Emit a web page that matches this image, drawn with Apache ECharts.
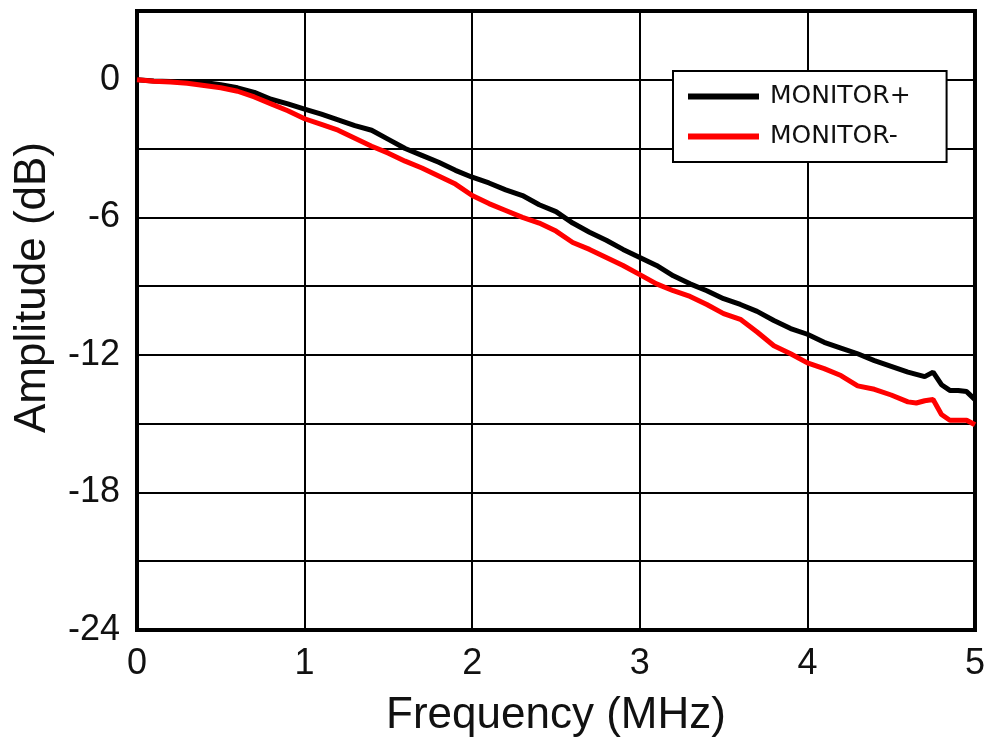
<!DOCTYPE html>
<html>
<head>
<meta charset="utf-8">
<script src="https://cdn.jsdelivr.net/npm/echarts@6/dist/echarts.min.js"></script>
<style>
    html, body { margin: 0; padding: 0; background: #fff; }
    #chart { width: 988px; height: 743px; }
</style>
</head>
<body>
<div id="chart"></div>
<script>
// frequency points (MHz)
const freq = [0, 0.1, 0.2, 0.3, 0.4, 0.5, 0.6, 0.7, 0.8, 0.9,
    1.0, 1.1, 1.2, 1.3, 1.4, 1.5, 1.6, 1.7, 1.8, 1.9,
    2.0, 2.1, 2.2, 2.3, 2.4, 2.5, 2.6, 2.7, 2.8, 2.9,
    3.0, 3.1, 3.2, 3.3, 3.4, 3.5, 3.6, 3.7, 3.8, 3.9,
    4.0, 4.1, 4.2, 4.3, 4.4, 4.5, 4.6, 4.65, 4.7, 4.75,
    4.8, 4.85, 4.9, 4.95, 5.0];
// amplitude (dB)
const monitorPlus = [0, -0.05, -0.07, -0.08, -0.12, -0.22, -0.35, -0.55, -0.85, -1.05,
    -1.28, -1.5, -1.75, -2.0, -2.2, -2.6, -3.0, -3.3, -3.6, -3.95,
    -4.25, -4.5, -4.8, -5.05, -5.45, -5.75, -6.25, -6.65, -7.0, -7.4,
    -7.75, -8.1, -8.55, -8.9, -9.2, -9.55, -9.8, -10.1, -10.5, -10.85,
    -11.1, -11.45, -11.7, -11.95, -12.25, -12.5, -12.75, -12.85, -12.95, -12.75,
    -13.3, -13.55, -13.55, -13.6, -13.95];
const monitorMinus = [0, -0.06, -0.1, -0.15, -0.25, -0.35, -0.5, -0.75, -1.05, -1.35,
    -1.7, -1.95, -2.2, -2.55, -2.9, -3.2, -3.55, -3.85, -4.2, -4.55,
    -5.05, -5.4, -5.7, -6.0, -6.25, -6.6, -7.1, -7.4, -7.75, -8.1,
    -8.5, -8.9, -9.2, -9.45, -9.8, -10.2, -10.45, -11.0, -11.6, -11.95,
    -12.35, -12.6, -12.9, -13.35, -13.5, -13.75, -14.05, -14.1, -14.0, -13.95,
    -14.6, -14.85, -14.85, -14.85, -15.05];
const yLabels = [0, -6, -12, -18, -24];

const font = 'Liberation Sans';
const chart = echarts.init(document.getElementById('chart'));

const pairs = (ys) => freq.map((f, i) => [f, ys[i]]);

chart.setOption({
    animation: false,
    backgroundColor: '#fff',
    grid: {
        left: 137, right: 11, top: 11, bottom: 111,
        show: true, borderColor: '#000', borderWidth: 4
    },
    legend: {
        orient: 'vertical',
        left: 673, top: 71,
        backgroundColor: '#fff',
        borderColor: '#000', borderWidth: 2,
        padding: [13, 36, 13, 15],
        itemGap: 15,
        itemWidth: 71, itemHeight: 6,
        icon: 'rect',
        textStyle: { fontFamily: 'DejaVu Sans', fontSize: 25, color: '#111', padding: [0, 0, 0, 6] },
        data: ['MONITOR+', 'MONITOR-']
    },
    xAxis: {
        type: 'value', min: 0, max: 5, interval: 1,
        name: 'Frequency (MHz)', nameLocation: 'middle', nameGap: 64,
        nameTextStyle: { fontFamily: font, fontSize: 44, color: '#111' },
        axisLine: { show: false },
        axisTick: { show: false },
        axisLabel: { fontFamily: font, fontSize: 36, color: '#111', margin: 16 },
        splitLine: { lineStyle: { color: '#000', width: 2 } }
    },
    yAxis: {
        type: 'value', min: -24, max: 3, interval: 3,
        name: 'Amplitude (dB)', nameLocation: 'middle', nameGap: 82,
        nameTextStyle: { fontFamily: font, fontSize: 44, color: '#111', padding: [0, 0, 0, 66] },
        axisLine: { show: false },
        axisTick: { show: false },
        axisLabel: {
            fontFamily: font, fontSize: 36, color: '#111', margin: 17,
            formatter: (v) => yLabels.includes(v) ? String(v) : ''
        },
        splitLine: { lineStyle: { color: '#000', width: 2 } }
    },
    series: [
        {
            name: 'MONITOR+', type: 'line', data: pairs(monitorPlus),
            showSymbol: false, symbol: 'none',
            lineStyle: { color: '#000', width: 5 }, itemStyle: { color: '#000' }
        },
        {
            name: 'MONITOR-', type: 'line', data: pairs(monitorMinus),
            showSymbol: false, symbol: 'none',
            lineStyle: { color: '#ff0000', width: 5 }, itemStyle: { color: '#ff0000' }
        }
    ]
});
</script>
</body>
</html>
